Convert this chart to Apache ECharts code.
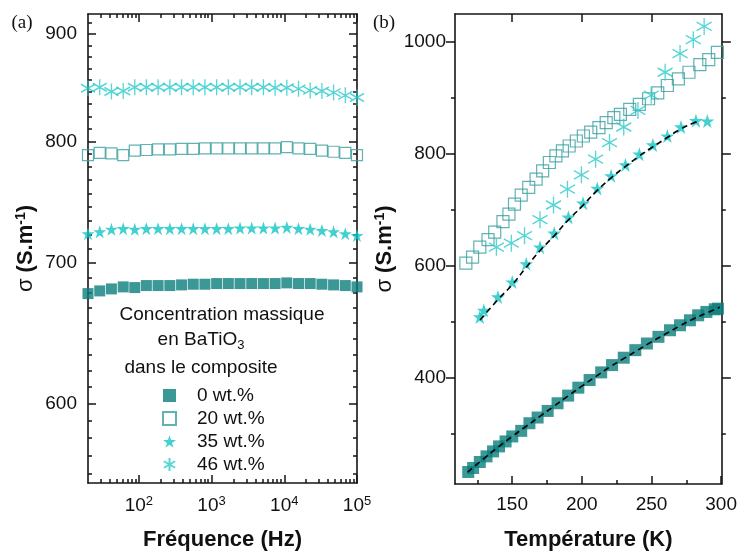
<!DOCTYPE html>
<html><head><meta charset="utf-8">
<script src="https://cdn.jsdelivr.net/npm/echarts@6/dist/echarts.min.js"></script>
<style>html,body{margin:0;padding:0;background:#fff}#c{width:740px;height:556px}</style>
</head><body><div id="c"></div>
<script>
// ---------- Panel (a): conductivity vs frequency ----------
const freqHz = [20, 29, 42, 61, 88, 127, 184, 267, 387, 560, 811, 1175, 1701, 2463, 3567, 5166, 7481, 10834, 15690, 22721, 32903, 47647, 69000, 100000];
const sigA_0  = [677, 679, 680.5, 682, 681.5, 683, 683, 683, 683.5, 684, 684, 684.5, 684.5, 684.5, 684.5, 684.5, 684.5, 685, 684.5, 684.5, 684, 683.5, 683, 682];
const sigA_20 = [788, 790, 789.5, 788, 792, 792.5, 793, 793, 793.5, 793.5, 794, 794, 794, 794, 794, 794, 794, 795, 794, 793.5, 792, 791, 790, 788];
const sigA_35 = [723, 724.5, 726.5, 727, 726.5, 727, 727, 727, 727, 727, 727, 727, 727, 727.5, 727.5, 727.5, 727.5, 728, 727, 726.5, 725.5, 724.5, 723, 721.5];
const sigA_46 = [848, 849, 845, 845.5, 849, 849, 849, 849, 849, 849, 849, 849, 849, 849, 849, 849, 848.5, 848.5, 847.5, 846, 845.5, 844, 841.5, 839.5];

// ---------- Panel (b): conductivity vs temperature ----------
const tempB_0 = [118.5, 122, 126.8, 131.6, 136.3, 140.6, 145.3, 150.1, 156.5, 162.4, 168.3, 175.5, 182.6, 190.2, 197.5, 205.6, 213.9, 221.7, 230.1, 238.4, 246.7, 255, 263.3, 270.5, 277.6, 283.5, 289.4, 295.4, 297.7];
const sigB_0  = [231.5, 238.6, 249.3, 259.4, 268.3, 277.2, 286.1, 295, 305, 318.6, 328.8, 340.6, 354.3, 368, 382.2, 395.8, 409.5, 422.5, 435.7, 449.2, 461.1, 473, 484.8, 493.7, 502.6, 511.5, 517.5, 522.2, 523.4];
const tempB_20 = [116.8, 121.6, 126.8, 132.7, 137.5, 143.4, 147.7, 151.7, 156.5, 161.9, 167.2, 171.9, 176.7, 181.4, 186.1, 190.9, 196.1, 201.1, 206.4, 212.3, 217.5, 223, 227.7, 234.4, 241.3, 247.9, 254.5, 261.4, 269.3, 276.9, 284.7, 291.1, 297.3];
const sigB_20  = [604.8, 615.5, 633.3, 646.8, 660, 678.8, 692.5, 710.3, 726.4, 740, 754.9, 769.6, 784.6, 796.3, 805.2, 814.1, 823, 832, 839, 846.9, 855.8, 864.7, 870.6, 879.5, 888.4, 898.5, 909.2, 922.2, 934.1, 945.9, 959.6, 968.5, 981.5];
const tempB_35 = [126.8, 129.7, 139.8, 150.1, 160.1, 170, 180.2, 190.4, 200.9, 211.1, 221, 231.3, 241.3, 251, 261.4, 271.2, 281.9, 290.1];
const sigB_35  = [508.6, 520.4, 544.2, 570.9, 603.5, 633.3, 658.2, 686.7, 711.8, 738.3, 760.7, 780.3, 799.4, 815.9, 831.9, 848, 859.4, 858.7];
const tempB_46 = [138.7, 149.4, 158.9, 170, 179.7, 189.7, 199.7, 209.9, 219.9, 230.1, 240.3, 249.8, 259.8, 270.5, 280, 287.8];
const sigB_46  = [633.3, 640.4, 653.9, 682.4, 708.6, 737, 762.5, 790.5, 820.2, 848, 877.7, 904.9, 945.9, 979.2, 1004.1, 1027.8];
// dashed fits
const fitT_0 = [118, 130, 140, 150, 160, 170, 180, 190, 200, 210, 220, 230, 240, 250, 260, 270, 280, 290, 299];
const fitV_0 = [231, 256, 276, 295, 313, 331, 349, 367, 385, 402, 419, 434, 449, 464, 478, 492, 505, 516, 526];
const fitT_35 = [127, 140, 150, 160, 170, 180, 190, 200, 210, 220, 230, 240, 250, 260, 270, 280, 285];
const fitV_35 = [503, 540, 566, 597, 627, 653, 681, 706, 732, 755, 775, 794, 811, 827, 843, 855, 859];

// ---------- Tick values ----------
const xTicksA = [100, 1000, 10000, 100000];
const xMinorA = [30,40,50,60,70,80,90,200,300,400,500,600,700,800,900,2000,3000,4000,5000,6000,7000,8000,9000,20000,30000,40000,50000,60000,70000,80000,90000];
const yTicksA = [600, 700, 800, 900];
const yMinorA = [555.56, 566.67, 577.78, 588.89, 611.11, 622.22, 633.33, 644.44, 655.56, 666.67, 677.78, 688.89, 711.11, 722.22, 733.33, 744.44, 755.56, 766.67, 777.78, 788.89, 811.11, 822.22, 833.33, 844.44, 855.56, 866.67, 877.78, 888.89, 911.11];
const xTicksB = [150, 200, 250, 300];
const xMinorB = [125, 175, 225, 275];
const yTicksB = [400, 600, 800, 1000];
const yMinorB = [300, 500, 700, 900];

const names = ['0 wt.%', '20 wt.%', '35 wt.%', '46 wt.%'];

const FONT = '"Liberation Sans", Arial, sans-serif';
const AXC = '#151515';
const C0 = '#0a7e7d', C20 = '#3a9f9f', C35 = '#14c4c4', C46 = '#2ccbcb';
const STAR = 'path://M50,2 L61.2,36.5 L97.6,36.5 L68.2,57.9 L79.4,92.4 L50,71.1 L20.6,92.4 L31.8,57.9 L2.4,36.5 L38.8,36.5 Z';
const AST = 'path://M50,0 L50,100 M6.7,25 L93.3,75 M6.7,75 L93.3,25';

function ax(o) {
  const base = {
    splitLine: {show: false}, axisPointer: {show: false},
    axisLine: {show: false, onZero: false, lineStyle: {color: AXC, width: 1.6}},
    axisTick: {show: false},
    axisLabel: {show: false}
  };
  const r = Object.assign({}, base, o);
  if (o.axisLine) r.axisLine = Object.assign({}, base.axisLine, o.axisLine);
  return r;
}
function tick(vals, len, inside) {
  return {show: true, inside: inside, length: len, customValues: vals, lineStyle: {color: AXC, width: 1.5}};
}
const lblStyle = {color: '#111', fontSize: 19, fontFamily: FONT};
const plain = v => String(Math.round(v));

const xAxes = [
  // panel a
  ax({gridIndex: 0, type: 'log', min: 20, max: 100000, position: 'bottom',
      axisLine: {show: true}, axisTick: tick(xTicksA, 8, true),
      axisLabel: Object.assign({show: true, customValues: xTicksA, margin: 12,
        formatter: v => '10{sup|' + Math.round(Math.log10(v)) + '}',
        rich: {sup: {fontSize: 13, fontFamily: FONT, color: '#111', verticalAlign: 'top', padding: [0, 0, 8, 0]}}}, lblStyle),
      name: 'Fréquence (Hz)', nameLocation: 'middle', nameGap: 46,
      nameTextStyle: {fontSize: 22, fontWeight: 'bold', fontFamily: FONT, color: '#111'}}),
  ax({gridIndex: 0, type: 'log', min: 20, max: 100000, position: 'bottom', axisTick: tick(xMinorA, 4, true)}),
  ax({gridIndex: 0, type: 'log', min: 20, max: 100000, position: 'top', axisLine: {show: true}, axisTick: tick(xTicksA, 8, true)}),
  ax({gridIndex: 0, type: 'log', min: 20, max: 100000, position: 'top', axisTick: tick(xMinorA, 4, true)}),
  // panel b
  ax({gridIndex: 1, type: 'value', min: 109, max: 300.5, position: 'bottom',
      axisLine: {show: true}, axisTick: tick(xTicksB, 8, true),
      axisLabel: Object.assign({show: true, customValues: xTicksB, margin: 11, formatter: plain}, lblStyle),
      name: 'Température (K)', nameLocation: 'middle', nameGap: 45,
      nameTextStyle: {fontSize: 22, fontWeight: 'bold', fontFamily: FONT, color: '#111'}}),
  ax({gridIndex: 1, type: 'value', min: 109, max: 300.5, position: 'bottom', axisTick: tick(xMinorB, 4, true)}),
  ax({gridIndex: 1, type: 'value', min: 109, max: 300.5, position: 'top', axisLine: {show: true}, axisTick: tick(xTicksB.slice(0, 3), 8, true)})
];

const yName = {
  name: '{sig|σ} (S.m{sup|-1})', nameLocation: 'middle',
  nameTextStyle: {fontSize: 22, fontWeight: 'bold', fontFamily: FONT, color: '#111',
    rich: {sig: {fontSize: 22, fontWeight: 'normal', fontFamily: FONT, color: '#111'},
           sup: {fontSize: 14, fontWeight: 'bold', fontFamily: FONT, color: '#111', verticalAlign: 'top', padding: [0, 0, 10, 0]}}}
};

const yAxes = [
  // panel a
  ax(Object.assign({gridIndex: 0, type: 'log', min: 550, max: 920, position: 'left',
      axisLine: {show: true}, axisTick: tick(yTicksA, 8, true),
      axisLabel: Object.assign({show: true, customValues: yTicksA, margin: 11, formatter: plain}, lblStyle),
      nameGap: 50}, yName)),
  ax({gridIndex: 0, type: 'log', min: 550, max: 920, position: 'left', axisTick: tick(yMinorA, 4, true)}),
  ax({gridIndex: 0, type: 'log', min: 550, max: 920, position: 'right', axisLine: {show: true}, axisTick: tick(yTicksA, 8, true)}),
  ax({gridIndex: 0, type: 'log', min: 550, max: 920, position: 'right', axisTick: tick(yMinorA, 4, true)}),
  // panel b
  ax(Object.assign({gridIndex: 1, type: 'value', min: 210, max: 1050, position: 'left',
      axisLine: {show: true}, axisTick: tick(yTicksB, 9, false),
      axisLabel: Object.assign({show: true, customValues: yTicksB, margin: 9, formatter: plain}, lblStyle),
      nameGap: 58}, yName)),
  ax({gridIndex: 1, type: 'value', min: 210, max: 1050, position: 'left', axisTick: tick(yMinorB, 4, false)}),
  ax({gridIndex: 1, type: 'value', min: 210, max: 1050, position: 'right', axisLine: {show: true}, axisTick: tick(yTicksB, 9, false)}),
  ax({gridIndex: 1, type: 'value', min: 210, max: 1050, position: 'right', axisTick: tick(yMinorB, 4, false)})
];

const zip = (a, b) => a.map((v, i) => [v, b[i]]);

function sc(name, xi, yi, data, kind, size) {
  const s = {type: 'scatter', name: name, xAxisIndex: xi, yAxisIndex: yi, data: data, symbolSize: size, z: 3,
    silent: true, emphasis: {disabled: true}};
  if (kind === 0) { s.symbol = 'rect'; s.itemStyle = {color: C0, borderWidth: 0}; }
  if (kind === 1) { s.symbol = 'rect'; s.itemStyle = {color: 'rgba(255,255,255,0)', borderColor: C20, borderWidth: 1.2}; }
  if (kind === 2) { s.symbol = STAR; s.itemStyle = {color: C35, borderWidth: 0}; }
  if (kind === 3) { s.symbol = AST; s.itemStyle = {color: 'rgba(255,255,255,0)', borderColor: C46, borderWidth: 1.4}; }
  return s;
}
function fit(xi, yi, data) {
  return {type: 'line', xAxisIndex: xi, yAxisIndex: yi, data: data, smooth: true, showSymbol: false, symbol: 'none',
    silent: true, z: 5, lineStyle: {color: '#000', width: 1.6, type: [6, 4]}};
}

const series = [
  sc(names[0], 0, 0, zip(freqHz, sigA_0), 0, 11),
  sc(names[1], 0, 0, zip(freqHz, sigA_20), 1, 11),
  sc(names[2], 0, 0, zip(freqHz, sigA_35), 2, 13),
  sc(names[3], 0, 0, zip(freqHz, sigA_46), 3, [14, 16]),
  sc('b0', 4, 4, zip(tempB_0, sigB_0), 0, 12),
  sc('b20', 4, 4, zip(tempB_20, sigB_20), 1, 12),
  sc('b46', 4, 4, zip(tempB_46, sigB_46), 3, [15, 17]),
  sc('b35', 4, 4, zip(tempB_35, sigB_35), 2, 14),
  fit(4, 4, zip(fitT_0, fitV_0)),
  fit(4, 4, zip(fitT_35, fitV_35))
];

const txt = (text, x, y, size, extra) => ({type: 'text', x: x, y: y, silent: true,
  style: Object.assign({text: text, fontSize: size, fontFamily: FONT, fill: '#111', textAlign: 'center', textVerticalAlign: 'middle'}, extra || {})});

const option = {
  animation: false,
  backgroundColor: '#fff',
  grid: [
    {left: 88, top: 14, width: 269, height: 471},
    {left: 455, top: 14, width: 269, height: 472}
  ],
  xAxis: xAxes,
  yAxis: yAxes,
  legend: {
    data: names, orient: 'vertical', left: 157, top: 381, itemWidth: 13, itemHeight: 13, itemGap: 4,
    selectedMode: false, textStyle: {fontSize: 19, fontFamily: FONT, color: '#111', padding: [0, 0, 0, 16]}
  },
  graphic: [
    txt('(a)', 22, 23, 19, {fontFamily: '"Liberation Serif", "Times New Roman", serif'}),
    txt('(b)', 384, 23, 19, {fontFamily: '"Liberation Serif", "Times New Roman", serif'}),
    txt('Concentration massique', 222, 315, 19),
    txt('en BaTiO{sub|3}', 201, 340, 19, {rich: {sub: {fontSize: 13, fontFamily: FONT, fill: '#111', verticalAlign: 'bottom', padding: [10, 0, 0, 0]}}}),
    txt('dans le composite', 201, 368, 19)
  ],
  series: series
};

const chart = echarts.init(document.getElementById('c'));
chart.setOption(option);
</script>
</body></html>
